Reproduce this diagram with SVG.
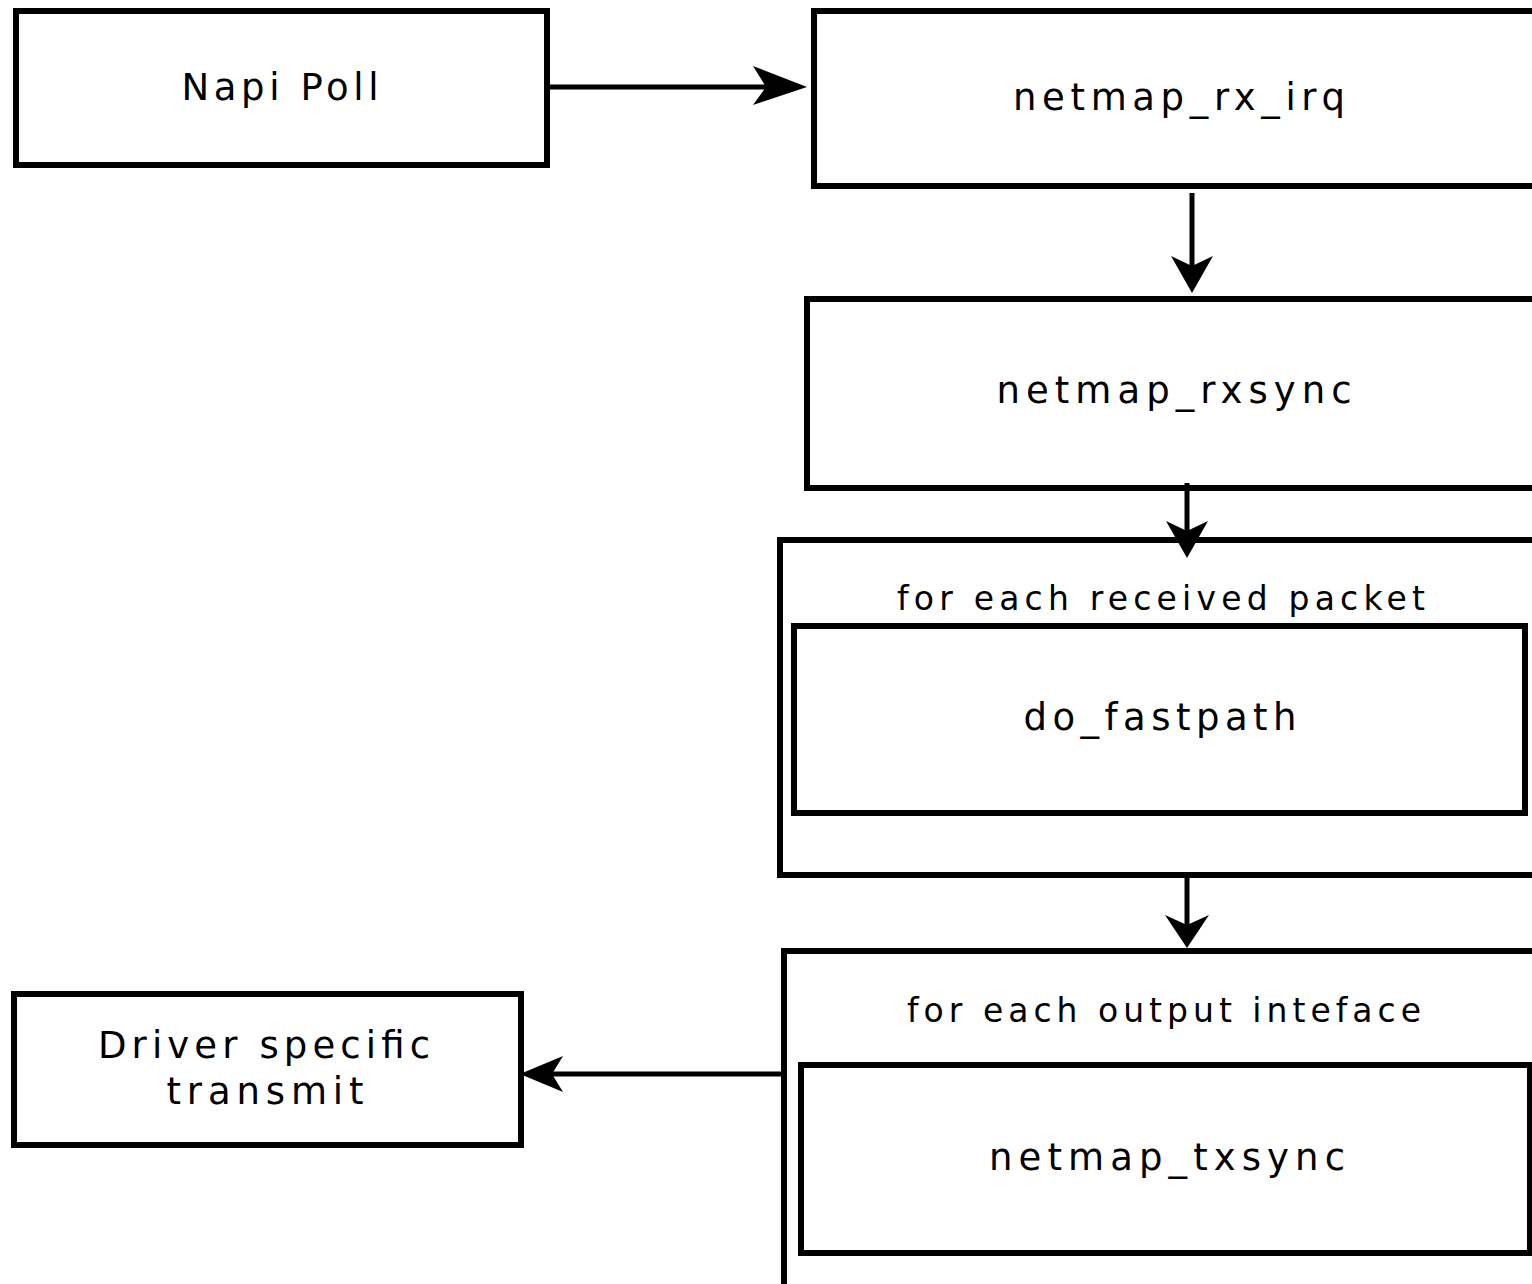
<svg xmlns="http://www.w3.org/2000/svg" width="1532" height="1284" viewBox="0 0 1532 1284">
<style>
.box{fill:none;stroke:#000;stroke-width:6}
.ln{fill:none;stroke:#000;stroke-width:5}
.hd{fill:#000;stroke:none}
text{font-family:"DejaVu Sans","Liberation Sans",sans-serif;fill:#000;text-anchor:middle}
.t{font-size:37px}
.s{font-size:33px}
</style>
<rect width="1532" height="1284" fill="#fff"/>
<g id="connectors">
<line class="ln" x1="550" y1="87" x2="790" y2="87"/>
<polygon class="hd" points="807,87 753,66 766,87 753,105"/>
<line class="ln" x1="1192" y1="193" x2="1192" y2="270"/>
<polygon class="hd" points="1192,293 1171,256 1192,266 1213,256"/>
<line class="ln" x1="1187" y1="483" x2="1187" y2="535"/>
<polygon class="hd" points="1187,558 1166,521 1187,531 1208,521"/>
<line class="ln" x1="1187" y1="875" x2="1187" y2="925"/>
<polygon class="hd" points="1187,948 1165,915 1187,925 1209,915"/>
<line class="ln" x1="783" y1="1074" x2="540" y2="1074"/>
<polygon class="hd" points="520,1074 563,1056 552,1074 563,1092"/>
</g>
<g id="napi_poll">
<rect class="box" x="16" y="11" width="531" height="154"/>
<text class="t" x="280" y="100" textLength="197" lengthAdjust="spacing">Napi Poll</text>
</g>
<g id="netmap_rx_irq">
<rect class="box" x="814" y="11" width="740" height="175"/>
<text class="t" x="1179" y="110" textLength="332" lengthAdjust="spacing">netmap_rx_irq</text>
</g>
<g id="netmap_rxsync">
<rect class="box" x="807" y="299" width="740" height="189"/>
<text class="t" x="1174" y="403" textLength="355" lengthAdjust="spacing">netmap_rxsync</text>
</g>
<g id="rx_loop">
<rect class="box" x="780" y="540" width="770" height="335"/>
<text class="s" x="1161" y="610" textLength="528" lengthAdjust="spacing">for each received packet</text>
</g>
<g id="do_fastpath">
<rect class="box" x="794" y="626" width="731" height="187"/>
<text class="t" x="1160" y="730" textLength="273" lengthAdjust="spacing">do_fastpath</text>
</g>
<g id="tx_loop">
<rect class="box" x="784" y="951" width="770" height="360"/>
<text class="s" x="1164" y="1022" textLength="514" lengthAdjust="spacing">for each output inteface</text>
</g>
<g id="netmap_txsync">
<rect class="box" x="801" y="1065" width="729" height="188"/>
<text class="t" x="1167" y="1170" textLength="356" lengthAdjust="spacing">netmap_txsync</text>
</g>
<g id="driver_tx">
<rect class="box" x="14" y="994" width="507" height="151"/>
<text class="t" x="264" y="1058" textLength="332" lengthAdjust="spacing">Driver specific</text>
<text class="t" x="265" y="1104" textLength="197" lengthAdjust="spacing">transmit</text>
</g>
</svg>
